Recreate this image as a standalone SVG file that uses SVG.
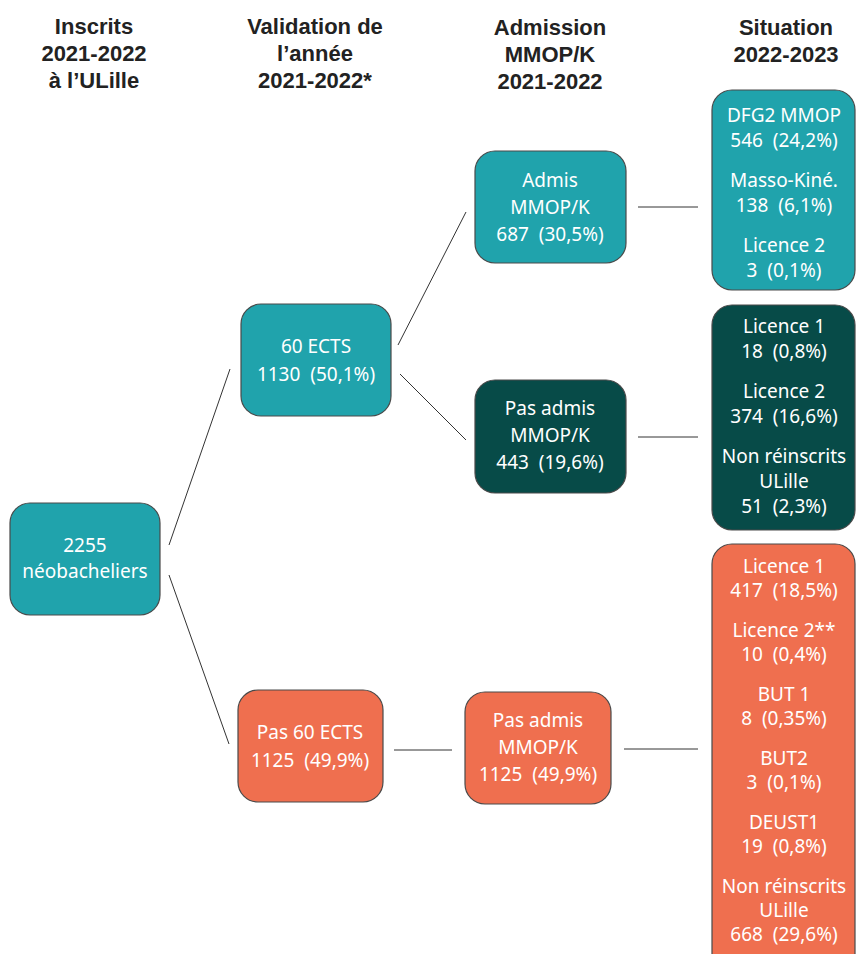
<svg xmlns="http://www.w3.org/2000/svg" width="856" height="954" viewBox="0 0 856 954">
<style>
.hd{font-family:"Liberation Sans",Arial,sans-serif;font-weight:bold;font-size:22px;fill:#222;text-anchor:middle}
.t{font-family:"Noto Sans","Open Sans",sans-serif;font-size:19px;fill:#fff;text-anchor:middle;white-space:pre}
.teal{fill:#20a3ac;stroke:#4a4a4a;stroke-width:1.2}
.dark{fill:#074b48;stroke:#4a4a4a;stroke-width:1.2}
.org{fill:#ef6f4f;stroke:#4a4a4a;stroke-width:1.2}
.c{stroke:#333;stroke-width:1;fill:none}
</style>
<rect width="856" height="954" fill="#fff"/>
<g id="headers">
<text class="hd" x="94" y="34">Inscrits</text>
<text class="hd" x="94" y="61">2021-2022</text>
<text class="hd" x="94" y="88">à l’ULille</text>
<text class="hd" x="315" y="34">Validation de</text>
<text class="hd" x="315" y="61">l’année</text>
<text class="hd" x="315" y="88">2021-2022*</text>
<text class="hd" x="550" y="35">Admission</text>
<text class="hd" x="550" y="62">MMOP/K</text>
<text class="hd" x="550" y="89">2021-2022</text>
<text class="hd" x="786" y="35">Situation</text>
<text class="hd" x="786" y="62">2022-2023</text>
</g>
<g id="connectors">
<line class="c" x1="169" y1="545" x2="230" y2="369"/>
<line class="c" x1="169" y1="575" x2="229" y2="744"/>
<line class="c" x1="398" y1="345" x2="466" y2="212"/>
<line class="c" x1="400" y1="374" x2="466" y2="440"/>
<line class="c" x1="638" y1="207" x2="698" y2="207"/>
<line class="c" x1="638" y1="437" x2="698" y2="437"/>
<line class="c" x1="394" y1="750" x2="452" y2="750"/>
<line class="c" x1="624" y1="749" x2="698" y2="749"/>
</g>
<g id="root">
<rect class="teal" x="10" y="503" width="150" height="112" rx="20"/>
<text class="t" x="85" y="552">2255</text>
<text class="t" x="85" y="578">néobacheliers</text>
</g>
<g id="ects60">
<rect class="teal" x="241" y="304" width="150" height="112" rx="20"/>
<text class="t" x="316" y="353">60 ECTS</text>
<text class="t" x="316" y="381" xml:space="preserve">1130  (50,1%)</text>
</g>
<g id="admis">
<rect class="teal" x="475" y="151" width="151" height="112" rx="20"/>
<text class="t" x="550" y="187">Admis</text>
<text class="t" x="550" y="214">MMOP/K</text>
<text class="t" x="550" y="241" xml:space="preserve">687  (30,5%)</text>
</g>
<g id="situation-admis">
<rect class="teal" x="712" y="90" width="143" height="200" rx="20"/>
<text class="t" x="784" y="122">DFG2 MMOP</text>
<text class="t" x="784" y="147" xml:space="preserve">546  (24,2%)</text>
<text class="t" x="784" y="187">Masso-Kiné.</text>
<text class="t" x="784" y="212" xml:space="preserve">138  (6,1%)</text>
<text class="t" x="784" y="252">Licence 2</text>
<text class="t" x="784" y="277" xml:space="preserve">3  (0,1%)</text>
</g>
<g id="pas-admis-60">
<rect class="dark" x="475" y="380" width="151" height="113" rx="20"/>
<text class="t" x="550" y="415">Pas admis</text>
<text class="t" x="550" y="442">MMOP/K</text>
<text class="t" x="550" y="469" xml:space="preserve">443  (19,6%)</text>
</g>
<g id="situation-pas-admis-60">
<rect class="dark" x="712" y="305" width="143" height="225" rx="20"/>
<text class="t" x="784" y="333">Licence 1</text>
<text class="t" x="784" y="358" xml:space="preserve">18  (0,8%)</text>
<text class="t" x="784" y="398">Licence 2</text>
<text class="t" x="784" y="423" xml:space="preserve">374  (16,6%)</text>
<text class="t" x="784" y="463">Non réinscrits</text>
<text class="t" x="784" y="488">ULille</text>
<text class="t" x="784" y="513" xml:space="preserve">51  (2,3%)</text>
</g>
<g id="pas-ects60">
<rect class="org" x="238" y="690" width="145" height="112" rx="20"/>
<text class="t" x="310" y="739">Pas 60 ECTS</text>
<text class="t" x="310" y="767" xml:space="preserve">1125  (49,9%)</text>
</g>
<g id="pas-admis-org">
<rect class="org" x="465" y="692" width="146" height="112" rx="20"/>
<text class="t" x="538" y="727">Pas admis</text>
<text class="t" x="538" y="754">MMOP/K</text>
<text class="t" x="538" y="781" xml:space="preserve">1125  (49,9%)</text>
</g>
<g id="situation-pas-ects60">
<rect class="org" x="712" y="544" width="143" height="430" rx="20"/>
<text class="t" x="784" y="573">Licence 1</text>
<text class="t" x="784" y="597" xml:space="preserve">417  (18,5%)</text>
<text class="t" x="784" y="637">Licence 2**</text>
<text class="t" x="784" y="661" xml:space="preserve">10  (0,4%)</text>
<text class="t" x="784" y="701">BUT 1</text>
<text class="t" x="784" y="725" xml:space="preserve">8  (0,35%)</text>
<text class="t" x="784" y="765">BUT2</text>
<text class="t" x="784" y="789" xml:space="preserve">3  (0,1%)</text>
<text class="t" x="784" y="829">DEUST1</text>
<text class="t" x="784" y="853" xml:space="preserve">19  (0,8%)</text>
<text class="t" x="784" y="893">Non réinscrits</text>
<text class="t" x="784" y="917">ULille</text>
<text class="t" x="784" y="941" xml:space="preserve">668  (29,6%)</text>
</g>
</svg>
